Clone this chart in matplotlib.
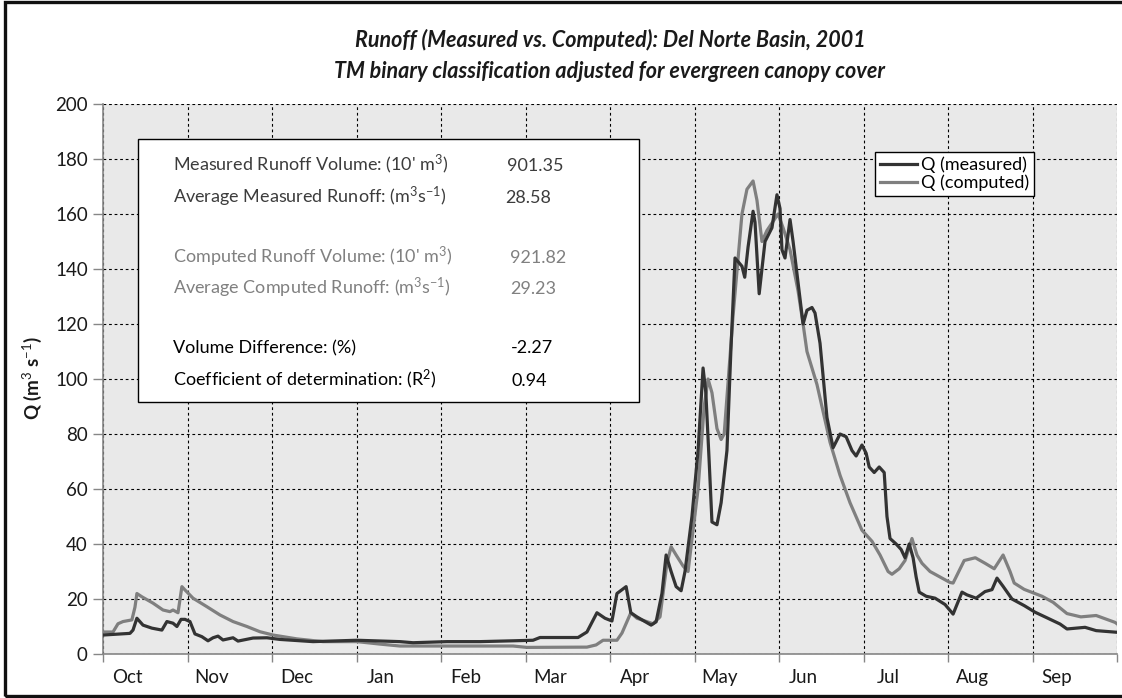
import matplotlib
matplotlib.use("Agg")
import matplotlib.pyplot as plt
from matplotlib.patches import Rectangle
import numpy as np

plt.rcParams['font.family'] = ['Lato', 'DejaVu Sans']
plt.rcParams['mathtext.fontset'] = 'custom'
plt.rcParams['mathtext.rm'] = 'Lato'
plt.rcParams['mathtext.it'] = 'Lato:italic'
plt.rcParams['mathtext.bf'] = 'Lato:bold'

# ---------------- data (day of water year, Oct 1 = 0) ----------------
months = ['Oct', 'Nov', 'Dec', 'Jan', 'Feb', 'Mar', 'Apr', 'May', 'Jun', 'Jul', 'Aug', 'Sep']

measured_day = [0, 9.7, 10.8, 12.2, 14.4, 17.6, 21.2, 23, 25.2, 26.6, 28.1, 29.5, 31.3, 33.1,
                35.6, 37.8, 39.6, 41.4, 43.2, 46.8, 48.6, 54, 59, 63.7, 75.6, 91.4, 106.9, 111.6,
                123.8, 135.7, 147.6, 154.8, 157.3, 171, 174.2, 177.8, 180.7, 183.2, 185, 188.3,
                190, 192.2, 197.3, 199.1, 201.2, 202.7, 204.5, 206.3, 208.1, 209.5, 212, 214.2,
                216, 217, 218.2, 219.2, 221, 222.5, 224.6, 226, 227.5, 230, 231, 232.2, 234,
                234.7, 236.2, 238.3, 240.8, 242.6, 243.7, 244.4, 245.5, 247.3, 248.4, 250.2,
                252, 253.4, 255.2, 256.3, 258.1, 260.6, 262.8, 265.3, 267.5, 269.6, 271.1,
                273.2, 274.7, 275.8, 277.6, 279.4, 281.2, 282.2, 283.3, 285.5, 287.3, 288.7,
                290.2, 291.6, 292.7, 293.8, 296.3, 299.5, 303.1, 306, 309.2, 311, 314.3, 317.5,
                320, 321.8, 324, 327.2, 331.6, 335.5, 339.5, 344.5, 347, 353.5, 357.5, 365]
measured_q = [6.9, 7.5, 8.7, 13, 10.5, 9.4, 8.7, 11.8, 11.2, 10, 12.6, 12.6, 11.8, 7.3,
              6.3, 4.8, 5.9, 6.5, 5.1, 5.9, 4.7, 5.8, 5.9, 5.3, 4.5, 5, 4.5, 4.1,
              4.5, 4.5, 4.8, 5, 6, 6, 8, 15, 13, 12, 22, 24.5,
              15, 13.5, 10.5, 11.7, 22, 36, 30, 24.5, 23, 30, 50, 74,
              104, 95, 70, 48, 47, 55, 74, 110, 144, 141, 137, 148, 161,
              157, 131, 150, 155, 167, 162, 147, 144, 158, 150, 135,
              120, 125, 126, 124, 113, 86, 75, 80, 79, 74, 72,
              76, 73, 68, 66, 68, 66, 50, 42, 40, 38, 35,
              40, 35, 28, 22.5, 21, 20.3, 18, 14.5, 22.5, 21.5, 20.3, 22.7,
              23.4, 27.6, 24.6, 20, 17.6, 15.2, 13.3, 10.9, 9.1, 9.7, 8.5, 7.9]

computed_day = [0, 3.6, 5.4, 7.2, 10.4, 11.5, 12.2, 14, 18, 21.6, 24.1, 25.2, 27, 28.4, 29.5,
                32.4, 37.4, 42.1, 46.8, 51.8, 56.5, 61.2, 69.8, 79.2, 91.4, 99.7, 106.9,
                147.6, 152.6, 174.2, 177.5, 180, 185, 186.8, 190, 192.2, 198, 200.5, 203,
                204.5, 206.3, 208.8, 210.6, 214.2, 216.4, 217.8, 219.2, 221, 222.5, 223.6,
                226.8, 230, 231.8, 234, 235.4, 237.2, 239, 243, 244.8, 247.3, 250.2, 252,
                253.4, 257, 261.7, 265.3, 268.9, 273.2, 276.8, 279.7, 282.6, 284, 286.6,
                288.7, 291.2, 293, 294.8, 297.7, 301.3, 304.9, 306, 310, 314, 317.5, 320.8,
                324, 326.5, 328, 331.6, 338, 342, 347, 352, 357.5, 364.3, 365]
computed_q = [8, 8, 11, 11.8, 12.4, 17, 22, 20.8, 18.5, 16, 15.4, 16, 15, 24.5, 23.3,
              20.3, 17.2, 14.2, 11.8, 10, 8.1, 6.9, 5.5, 4.5, 4.5, 3.6, 2.9,
              2.9, 2.4, 2.5, 3.3, 5, 5, 7.6, 15, 13, 11, 13.5, 33,
              39, 36, 32, 30, 60, 90, 100, 95, 82, 78, 80,
              123, 160, 169, 172, 165, 150, 154, 160, 155, 147, 132, 120,
              110, 98, 77, 65, 55, 45, 41, 36, 30, 29, 31,
              34, 42, 36, 33, 30, 28, 26, 25.8, 34, 35, 33, 31,
              36, 30, 25.8, 23.5, 21, 18.8, 14.7, 13.5, 14, 11.5, 11]

stats_labels = ['Measured Runoff Volume: (10\' m$^3$)',
                'Average Measured Runoff: (m$^3$s$^{-1}$)',
                'Computed Runoff Volume: (10\' m$^3$)',
                'Average Computed Runoff: (m$^3$s$^{-1}$)',
                'Volume Difference: (%)',
                'Coefficient of determination: (R$^2$)']
stats_values = ['901.35', '28.58', '921.82', '29.23', '-2.27', '0.94']

title_1 = 'Runoff (Measured vs. Computed): Del Norte Basin, 2001'
title_2 = 'TM binary classification adjusted for evergreen canopy cover'

# ---------------- figure ----------------
W, H = 1122, 698
fig = plt.figure(figsize=(W / 100, H / 100), dpi=100)
fig.patch.set_facecolor('white')


def fx(px):
    return px / W


def fy(py):
    return 1 - py / H


left, right, top, bottom = 103, 1117, 104, 654
ax = fig.add_axes([fx(left), fy(bottom), fx(right) - fx(left), (bottom - top) / H])
ax.set_facecolor('#e9e9e9')

meas_col = '#333333'
comp_col = '#7f7f7f'
ax.plot(measured_day, measured_q, color=meas_col, lw=2.3, label='Q (measured)', zorder=4,
        solid_joinstyle='round')
ax.plot(computed_day, computed_q, color=comp_col, lw=2.3, label='Q (computed)', zorder=3,
        solid_joinstyle='round')

tick_fs = 13.5
ax.set_xlim(0, 365)
ax.set_ylim(0, 200)
bounds = np.linspace(0, 365, 13)
ax.set_xticks(bounds)
ax.set_xticklabels([])
ax.set_xticks(bounds[:-1] + 0.29 * (bounds[1] - bounds[0]), minor=True)
ax.set_xticklabels(months, minor=True)
ax.tick_params(axis='x', which='major', length=6, width=1, color='#868686', direction='out')
ax.tick_params(axis='x', which='minor', length=0, pad=11, labelsize=tick_fs, labelcolor='#1a1a1a')
ax.set_yticks(np.arange(0, 201, 20))
ax.tick_params(axis='y', length=7, width=1, color='#868686', direction='out', pad=4,
               labelsize=tick_fs, labelcolor='#1a1a1a')

ax.set_axisbelow(True)
ax.grid(True, which='major', color='black', lw=0.8, linestyle=(0, (2.5, 2.5)))
for s in ['top', 'right']:
    ax.spines[s].set_visible(False)
for s in ['left', 'bottom']:
    ax.spines[s].set_color('#868686')
    ax.spines[s].set_linewidth(1.2)

# y label
fig.text(fx(32), fy(378), 'Q (m$^3$ s$^{-1}$)', rotation=90, ha='center', va='center',
         fontsize=13.5, fontweight='bold', color='#1a1a1a')

# titles
tkw = dict(fontweight='bold', fontstyle='italic', fontsize=15.5, color='#1a1a1a')
fig.text(fx(610), fy(40), title_1, ha='center', va='center', **tkw)
fig.text(fx(610), fy(72), title_2, ha='center', va='center', **tkw)

# stats box
box = Rectangle((fx(138), fy(402)), fx(639) - fx(138), (402 - 139) / H,
                transform=fig.transFigure, facecolor='white', edgecolor='black',
                lw=1.0, zorder=5, clip_on=False)
ax.add_patch(box)
stat_fs = 13
row_y = [165, 197, 257, 288, 347, 380]
row_cols = ['#3c3c3c', '#3c3c3c', '#808080', '#808080', '#000000', '#000000']
val_x = [507, 505, 510, 510, 511, 512]
for lab, val, yy, col, vx in zip(stats_labels, stats_values, row_y, row_cols, val_x):
    ax.text(fx(173), fy(yy + 6), lab, transform=fig.transFigure, ha='left', va='baseline',
            fontsize=stat_fs, color=col, zorder=6)
    ax.text(fx(vx), fy(yy + 6), val, transform=fig.transFigure, ha='left', va='baseline',
            fontsize=stat_fs, color=col, zorder=6)

# legend
leg = ax.legend(loc='lower left', bbox_to_anchor=(fx(875), fy(196)),
                bbox_transform=fig.transFigure, frameon=True, fancybox=False,
                edgecolor='black', framealpha=1, fontsize=13, handlelength=2.1,
                handletextpad=0.2, borderpad=0.25, borderaxespad=0, labelspacing=0.1)
leg.get_frame().set_linewidth(1.0)
leg.set_zorder(7)

# outer border (right side runs off the image)
fig.patches.append(Rectangle((fx(5), fy(696)), fx(1140) - fx(5), (696 - 2) / H,
                             transform=fig.transFigure, fill=False, edgecolor='#111111',
                             lw=2.4))

fig.savefig('out.png', dpi=100)
